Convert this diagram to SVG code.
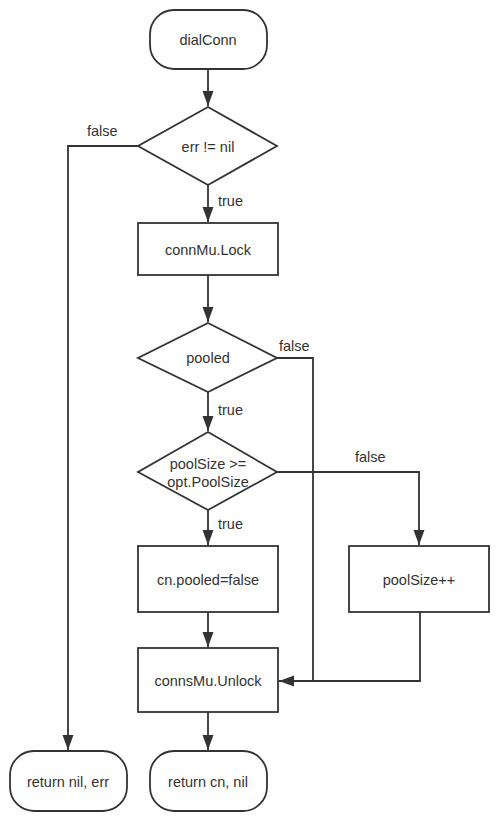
<svg xmlns="http://www.w3.org/2000/svg" width="500" height="823" viewBox="0 0 500 823">
<style>
.s{fill:#fff;stroke:#333;stroke-width:1.8}
.t{font-family:"Liberation Sans",Arial,sans-serif;font-size:14.5px;fill:#333;text-anchor:middle;dominant-baseline:central}
.l{font-family:"Liberation Sans",Arial,sans-serif;font-size:14.5px;fill:#333}
.c{fill:none;stroke:#333;stroke-width:1.8}
</style>
<defs>
<marker id="a" markerWidth="16" markerHeight="12" refX="15" refY="6" orient="auto" markerUnits="userSpaceOnUse" viewBox="0 0 16 12">
<path d="M0,0.5 L15,6 L0,11.5 Z" fill="#333"/>
</marker>
</defs>
<rect width="500" height="823" fill="#fff"/>
<g id="connectors">
<path class="c" d="M208,69 V106" marker-end="url(#a)"/>
<path class="c" d="M138,146 H68 V750" marker-end="url(#a)"/>
<path class="c" d="M208,185 V222" marker-end="url(#a)"/>
<path class="c" d="M208,275 V322" marker-end="url(#a)"/>
<path class="c" d="M277,358 H313 V681 H279" marker-end="url(#a)"/>
<path class="c" d="M208,392 V431" marker-end="url(#a)"/>
<path class="c" d="M277,472 H419 V545" marker-end="url(#a)"/>
<path class="c" d="M208,510 V545" marker-end="url(#a)"/>
<path class="c" d="M208,612 V647" marker-end="url(#a)"/>
<path class="c" d="M420,612 V681 H313"/>
<path class="c" d="M208,712 V750" marker-end="url(#a)"/>
<text class="l" x="87" y="136">false</text>
<text class="l" x="218" y="206">true</text>
<text class="l" x="279" y="351">false</text>
<text class="l" x="218" y="415">true</text>
<text class="l" x="355" y="462">false</text>
<text class="l" x="218" y="529">true</text>
</g>
<g id="dialConn">
<rect class="s" x="150" y="10" width="117" height="59" rx="24"/>
<text class="t" x="208" y="40">dialConn</text>
</g>
<g id="errCheck">
<polygon class="s" points="208,107 277,146 208,185 138,146"/>
<text class="t" x="208" y="147">err != nil</text>
</g>
<g id="connMuLock">
<rect class="s" x="138" y="223" width="140" height="52"/>
<text class="t" x="208" y="250">connMu.Lock</text>
</g>
<g id="pooled">
<polygon class="s" points="208,323 277,358 208,392 138,358"/>
<text class="t" x="208" y="358">pooled</text>
</g>
<g id="poolSizeCheck">
<polygon class="s" points="208,432 277,472 208,510 138,472"/>
<text class="t" x="208" y="464">poolSize &gt;=</text>
<text class="t" x="208" y="482">opt.PoolSize</text>
</g>
<g id="cnPooledFalse">
<rect class="s" x="138" y="546" width="140" height="66"/>
<text class="t" x="208" y="580">cn.pooled=false</text>
</g>
<g id="poolSizeInc">
<rect class="s" x="349" y="546" width="140" height="66"/>
<text class="t" x="419" y="580">poolSize++</text>
</g>
<g id="connsMuUnlock">
<rect class="s" x="138" y="648" width="140" height="64"/>
<text class="t" x="208" y="681">connsMu.Unlock</text>
</g>
<g id="returnNilErr">
<rect class="s" x="10" y="751" width="117" height="60" rx="24"/>
<text class="t" x="68" y="782">return nil, err</text>
</g>
<g id="returnCnNil">
<rect class="s" x="150" y="751" width="117" height="60" rx="24"/>
<text class="t" x="208" y="782">return cn, nil</text>
</g>
</svg>
